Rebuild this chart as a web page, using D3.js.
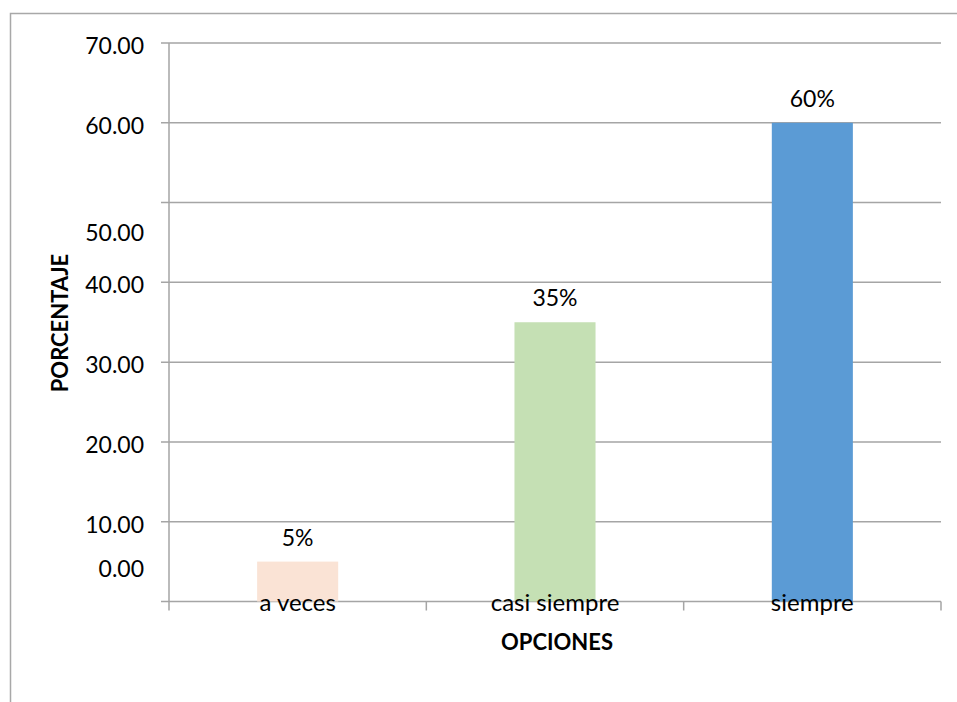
<!DOCTYPE html>
<html>
<head>
<meta charset="utf-8">
<script src="https://cdn.jsdelivr.net/npm/d3@7"></script>
<style>
  html, body { margin: 0; padding: 0; background: #fff; }
  svg { display: block; }
</style>
</head>
<body>
<svg id="chart" width="957" height="702"></svg>
<script>
// ---- data ----
const categories = ["a veces", "casi siempre", "siempre"];
const values = [5, 35, 60];
const valueLabels = ["5%", "35%", "60%"];
const colors = ["#FAE3D5", "#C5E0B4", "#5B9BD5"];
const yTicks = [0, 10, 20, 30, 40, 50, 60, 70];
const yTickLabels = ["0.00", "10.00", "20.00", "30.00", "40.00", "50.00", "60.00", "70.00"];
const xTitle = "OPCIONES";
const yTitle = "PORCENTAJE";

// ---- layout ----
const svg = d3.select("#chart");
const plot = { left: 169, right: 941, top: 43, bottom: 601.5 };
const font = "Lato, 'Open Sans', sans-serif";
const grid = "#A5A5A5";

// outer frame (extends past the window on right/bottom)
svg.append("rect")
  .attr("x", 10.5).attr("y", 13.5).attr("width", 980).attr("height", 720)
  .attr("fill", "none").attr("stroke", "#A8A8A8").attr("stroke-width", 1.5);

const x = d3.scaleBand().domain(categories)
  .range([plot.left, plot.right]).paddingInner(0.685).paddingOuter(0.3425);
const y = d3.scaleLinear().domain([0, 70]).range([plot.bottom, plot.top]);

// gridlines with left tick stubs
svg.append("g").selectAll("line").data(yTicks).join("line")
  .attr("x1", plot.left - 8).attr("x2", plot.right)
  .attr("y1", d => y(d)).attr("y2", d => y(d))
  .attr("stroke", grid).attr("stroke-width", 1.5);

// y axis line
svg.append("line")
  .attr("x1", plot.left).attr("x2", plot.left)
  .attr("y1", plot.top).attr("y2", plot.bottom + 9)
  .attr("stroke", grid).attr("stroke-width", 1.5);

// x ticks at category boundaries
const boundaries = categories.map(c => x(c) - x.step() * x.paddingOuter()).concat([plot.right]);
svg.append("g").selectAll("line").data(boundaries.slice(1)).join("line")
  .attr("x1", d => d).attr("x2", d => d)
  .attr("y1", plot.bottom).attr("y2", plot.bottom + 9)
  .attr("stroke", grid).attr("stroke-width", 1.5);

// y tick labels (reference places a few labels off their gridline)
const labelNudge = { 0: -36, 50: 27 };
svg.append("g").selectAll("text").data(yTicks).join("text")
  .attr("x", 144)
  .attr("y", d => y(d) + 3 + (labelNudge[d] || 0))
  .attr("dy", "0.35em")
  .attr("text-anchor", "end")
  .attr("font-family", font).attr("font-size", 23).attr("fill", "#000")
  .text((d, i) => yTickLabels[i]);

// bars
svg.append("g").selectAll("rect").data(values).join("rect")
  .attr("x", (d, i) => x(categories[i]))
  .attr("width", x.bandwidth())
  .attr("y", d => y(d))
  .attr("height", d => y(0) - y(d))
  .attr("fill", (d, i) => colors[i]);

// value labels
svg.append("g").selectAll("text").data(values).join("text")
  .attr("x", (d, i) => x(categories[i]) + x.bandwidth() / 2)
  .attr("y", d => y(d) - 16)
  .attr("text-anchor", "middle")
  .attr("font-family", font).attr("font-size", 23).attr("fill", "#000")
  .text((d, i) => valueLabels[i]);

// category labels
svg.append("g").selectAll("text").data(categories).join("text")
  .attr("x", d => x(d) + x.bandwidth() / 2)
  .attr("y", plot.bottom + 9)
  .attr("text-anchor", "middle")
  .attr("font-family", font).attr("font-size", 24).attr("fill", "#000")
  .text(d => d);

// axis titles
svg.append("text")
  .attr("x", (plot.left + plot.right) / 2 + 2).attr("y", 650)
  .attr("text-anchor", "middle")
  .attr("font-family", font).attr("font-size", 22).attr("font-weight", "bold").attr("fill", "#000")
  .text(xTitle);

svg.append("text")
  .attr("transform", "translate(68,323) rotate(-90)")
  .attr("text-anchor", "middle")
  .attr("font-family", font).attr("font-size", 22).attr("font-weight", "bold").attr("fill", "#000")
  .text(yTitle);
</script>
</body>
</html>
